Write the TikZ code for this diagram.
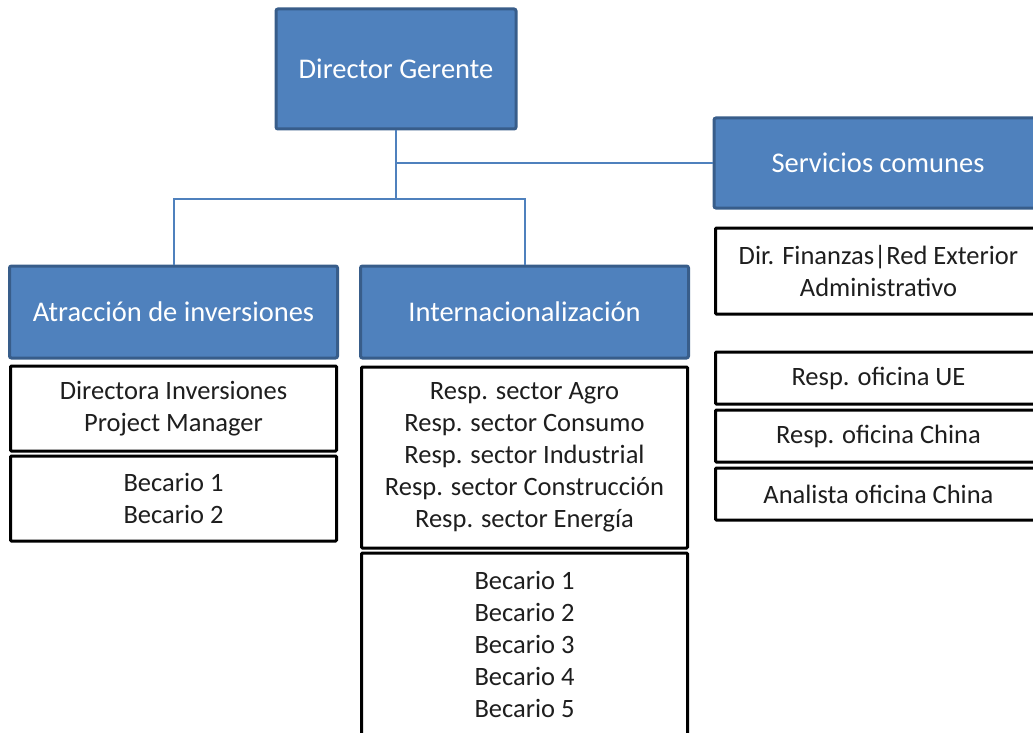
\documentclass[tikz,border=0pt]{standalone}
\usepackage{fontspec}
\setmainfont{Carlito}
\definecolor{boxblue}{RGB}{79,129,189}
\definecolor{boxedge}{RGB}{56,93,138}
\begin{document}
\begin{tikzpicture}[x=1pt,y=-1pt,
  bluebox/.style={rectangle, fill=boxblue, draw=boxedge, line width=3pt, rounded corners=2pt,
    text=white, font=\fontsize{28.5}{34}\selectfont, inner sep=0pt, minimum width=#1},
  bluebox/.default=328pt,
  whitebox/.style={rectangle, fill=white, draw=black, line width=3pt, rounded corners=1pt,
    text={rgb,255:red,30;green,30;blue,30}, font=\fontsize{26.5}{32}\selectfont, align=center, inner sep=0pt,
    minimum width=326pt},
  conn/.style={draw=boxblue, line width=2pt}]
\useasboundingbox (0,0) rectangle (1033,733);
\clip (0,0) rectangle (1033,733);
\node[bluebox=240pt, minimum height=120pt] (dg) at (396,69) {Director Gerente};
\node[bluebox, minimum height=90pt] (sc) at (878,163) {Servicios comunes};
\node[whitebox, minimum height=86pt] (fin) at (878.5,271) {Dir. Finanzas|Red Exterior\\Administrativo};
\node[whitebox, minimum height=52pt] (ue) at (878.5,378) {Resp. oficina UE};
\node[whitebox, minimum height=52pt] (ch) at (878.5,436) {Resp. oficina China};
\node[whitebox, minimum height=52pt] (an) at (878.5,494) {Analista oficina China};
\node[bluebox, minimum height=92pt] (atr) at (173.5,312) {Atracción de inversiones};
\node[whitebox, minimum height=85pt] (dir) at (173.5,408.5) {Directora Inversiones\\Project Manager};
\node[whitebox, minimum height=85pt] (bA) at (173.5,498.5) {Becario 1\\Becario 2};
\node[bluebox, minimum height=92pt] (int) at (524.5,312) {Internacionalización};
\node[whitebox, minimum height=181pt] (resp) at (524.5,457.5) {Resp. sector Agro\\Resp. sector Consumo\\Resp. sector Industrial\\Resp. sector Construcción\\Resp. sector Energía};
\node[whitebox, minimum height=182pt] (bB) at (524.5,644) {Becario 1\\Becario 2\\Becario 3\\Becario 4\\Becario 5};
\coordinate (bus) at (396,199);
\draw[conn] (dg.south) |- (sc.west);
\draw[conn] (dg.south) -- (bus);
\draw[conn] (atr.north) |- (bus) -| (int.north);
\end{tikzpicture}
\end{document}
